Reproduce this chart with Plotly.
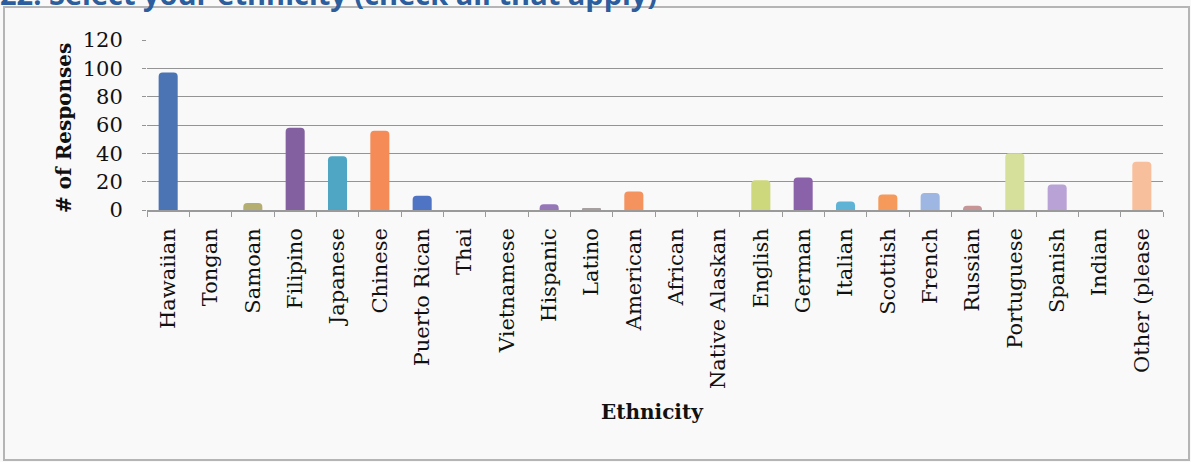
import plotly.graph_objects as go

# Survey question: ethnicity (multiple selections allowed)
categories = [
    "Hawaiian", "Tongan", "Samoan", "Filipino", "Japanese", "Chinese",
    "Puerto Rican", "Thai", "Vietnamese", "Hispanic", "Latino", "American",
    "African", "Native Alaskan", "English", "German", "Italian", "Scottish",
    "French", "Russian", "Portuguese", "Spanish", "Indian", "Other (please",
]
responses = [97, 0, 5, 58, 38, 56, 10, 0, 0, 4, 1, 13,
             0, 0, 21, 23, 6, 11, 12, 3, 40, 18, 0, 34]

# Office-style "vary colours by point" palette
bar_colors = [
    "#4a74b4", "#c0504d", "#b4ae70", "#83609f", "#4ea6c4", "#f58b57",
    "#4f74c4", "#d06a66", "#a8c66a", "#9577b8", "#a8a0a0", "#f4935e",
    "#6f93d0", "#c98683", "#cdd77c", "#8a62aa", "#5fb4d6", "#f59a5a",
    "#9db6e2", "#c79595", "#d6e09a", "#b9a2d6", "#9ed3e6", "#f8bf9c",
]

y_ticks = [0, 20, 40, 60, 80, 100, 120]

W, H = 1191, 462
L, R, T, B = 147, 28, 40, 252
pw, ph = W - L - R, H - T - B


def px_to_paper_x(px):
    return (px - L) / pw


def px_to_paper_y(py):
    return (H - B - py) / ph


serif = "DejaVu Serif"

fig = go.Figure(
    go.Bar(
        x=categories,
        y=responses,
        marker=dict(color=bar_colors, line=dict(width=0), cornerradius=4),
        hoverinfo="x+y",
    )
)

fig.update_layout(
    template="none",
    width=W,
    height=H,
    margin=dict(l=L, r=R, t=T, b=B),
    paper_bgcolor="#f9f9f9",
    plot_bgcolor="#f9f9f9",
    bargap=0.55,
    showlegend=False,
    title=dict(
        text="<b>22. Select your ethnicity (check all that apply)</b>",
        font=dict(family="Open Sans", size=29, color="#2c5d9c"),
        xref="container", yref="container",
        x=0.0, xanchor="left",
        y=1 - 5 / H, yanchor="bottom",
        pad=dict(t=0, b=0, l=0, r=0),
    ),
    shapes=[
        dict(type="rect", xref="paper", yref="paper",
             x0=px_to_paper_x(4), x1=px_to_paper_x(1189),
             y0=px_to_paper_y(460), y1=px_to_paper_y(7),
             line=dict(color="#b5b5b5", width=2), layer="below"),
    ],
    annotations=[
        dict(text="<b>Ethnicity</b>", xref="paper", yref="paper",
             x=px_to_paper_x(652), y=px_to_paper_y(412),
             xanchor="center", yanchor="middle", showarrow=False,
             font=dict(family=serif, size=20, color="#111111")),
        dict(text="<b># of Responses</b>", xref="paper", yref="paper",
             x=px_to_paper_x(64), y=px_to_paper_y(128),
             xanchor="center", yanchor="middle", showarrow=False,
             textangle=-90,
             font=dict(family=serif, size=20, color="#111111")),
    ],
)

fig.update_xaxes(
    automargin=False,
    tickangle=-90,
    tickfont=dict(family=serif, size=21, color="#111111"),
    showline=True, linecolor="#9a9a9a", linewidth=1.5,
    ticks="outside", tickson="boundaries", ticklen=5, tickcolor="#9a9a9a",
    ticklabelstandoff=8,
    showgrid=False, zeroline=False,
)

fig.update_yaxes(
    automargin=False,
    range=[0, 120],
    tickvals=y_ticks,
    tickfont=dict(family=serif, size=21, color="#111111"),
    showgrid=True, gridcolor="#949494", gridwidth=1.4,
    ticks="outside", ticklen=4, tickcolor="#949494",
    ticklabelstandoff=15,
    showline=False, zeroline=False,
)

fig.write_html("out.html")
